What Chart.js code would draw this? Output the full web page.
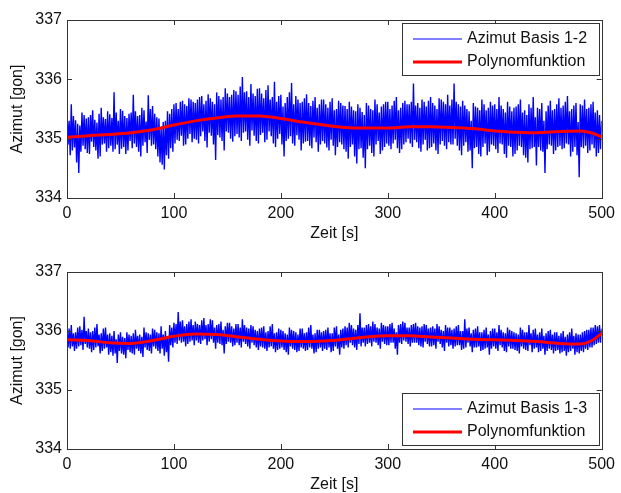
<!DOCTYPE html>
<html lang="de">
<head>
<meta charset="UTF-8">
<title>Azimut Basis 1-2 / 1-3</title>
<script src="https://cdn.jsdelivr.net/npm/chart.js"></script>
<style>
  body { margin: 0; background: #fff; }
  .wrap { position: relative; width: 621px; height: 493px; }
  .box { position: absolute; left: 0; width: 621px; }
  #box1 { top: 0; height: 250px; }
  #box2 { top: 250px; height: 243px; }
</style>
</head>
<body>
<div class="wrap">
  <div class="box" id="box1"><canvas id="chart1"></canvas></div>
  <div class="box" id="box2"><canvas id="chart2"></canvas></div>
</div>
<script>
// Messwerte: ein Wert pro Sekunde, von 0 s bis 500 s
const sampleStart = 0;
const sampleStep = 1;

const azimut12 = [
  335.45, 334.90, 335.30, 334.72, 335.58, 334.80, 335.38, 334.85, 335.31, 334.60, 335.25, 334.42, 335.22, 334.78, 335.44, 334.88, 335.40, 334.82, 335.34, 334.76,
  335.36, 334.74, 335.40, 334.95, 335.48, 334.86, 335.32, 334.80, 335.27, 334.66, 335.42, 334.70, 335.52, 334.90, 335.36, 334.92, 335.33, 334.78, 335.46, 334.84,
  335.41, 334.88, 335.35, 334.78, 335.78, 334.82, 335.44, 334.90, 335.30, 334.74, 335.50, 334.83, 335.47, 334.86, 335.38, 334.74, 335.35, 334.80, 335.42, 334.96,
  335.44, 334.84, 335.74, 334.92, 335.46, 334.86, 335.38, 334.78, 335.40, 334.70, 335.52, 334.88, 335.48, 334.94, 335.29, 334.76, 335.73, 334.98, 335.50, 334.88,
  335.55, 334.90, 335.42, 334.82, 335.36, 334.70, 335.34, 334.60, 335.20, 334.56, 335.28, 334.48, 335.30, 334.72, 335.46, 334.66, 335.42, 334.84, 335.50, 334.78,
  335.58, 334.92, 335.60, 334.98, 335.50, 334.96, 335.62, 335.05, 335.64, 334.88, 335.58, 334.90, 335.55, 335.00, 335.68, 335.08, 335.66, 334.94, 335.62, 335.00,
  335.60, 334.98, 335.66, 334.92, 335.70, 335.04, 335.72, 335.12, 335.58, 334.96, 335.64, 334.85, 335.75, 335.10, 335.68, 335.05, 335.62, 334.90, 335.58, 334.64,
  335.78, 335.06, 335.72, 335.02, 335.66, 334.96, 335.70, 334.80, 335.85, 335.12, 335.76, 335.10, 335.70, 335.00, 335.74, 334.95, 335.82, 335.04, 335.80, 335.08,
  335.74, 335.02, 335.88, 334.96, 336.04, 335.10, 335.78, 335.12, 335.80, 334.98, 335.70, 334.88, 335.92, 335.14, 335.76, 335.05, 335.72, 334.96, 335.84, 334.92,
  335.85, 335.06, 335.76, 335.10, 335.68, 334.94, 335.82, 334.98, 335.90, 335.12, 335.66, 335.04, 335.70, 334.92, 335.96, 334.86, 335.62, 335.00, 335.72, 335.08,
  335.74, 334.90, 335.54, 334.70, 335.60, 334.96, 335.70, 335.00, 335.78, 335.04, 335.94, 334.92, 335.58, 334.88, 335.72, 335.06, 335.66, 334.98, 335.60, 334.80,
  335.62, 334.92, 335.68, 334.95, 335.75, 334.96, 335.60, 334.88, 335.55, 334.84, 335.64, 335.02, 335.70, 334.94, 335.52, 334.78, 335.58, 334.90, 335.66, 334.96,
  335.66, 334.92, 335.58, 334.85, 335.52, 334.80, 335.62, 334.98, 335.68, 334.88, 335.48, 334.72, 335.50, 334.86, 335.64, 334.94, 335.60, 334.90, 335.56, 334.82,
  335.55, 334.78, 335.50, 334.66, 335.62, 334.86, 335.54, 334.90, 335.48, 334.70, 335.46, 334.58, 335.58, 334.82, 335.52, 334.84, 335.45, 334.68, 335.40, 334.50,
  335.60, 334.82, 335.56, 334.88, 335.50, 334.76, 335.48, 334.70, 335.66, 334.90, 335.58, 334.96, 335.44, 334.74, 335.54, 334.80, 335.58, 334.86, 335.62, 334.92,
  335.62, 334.88, 335.50, 334.82, 335.56, 334.92, 335.64, 334.98, 335.70, 334.84, 335.48, 334.76, 335.52, 334.82, 335.60, 334.90, 335.64, 334.94, 335.58, 335.00,
  335.58, 334.92, 335.62, 334.86, 335.93, 334.98, 335.56, 334.94, 335.60, 334.84, 335.52, 334.78, 335.66, 334.90, 335.62, 334.98, 335.54, 334.80, 335.64, 334.84,
  335.70, 334.86, 335.60, 334.92, 335.56, 334.80, 335.50, 334.74, 335.68, 334.90, 335.66, 334.96, 335.62, 334.88, 335.58, 334.82, 335.74, 334.94, 335.56, 334.90,
  335.66, 334.90, 335.93, 335.00, 335.62, 334.88, 335.58, 334.80, 335.54, 334.72, 335.64, 334.88, 335.56, 334.94, 335.50, 334.78, 335.46, 334.80, 335.30, 334.50,
  335.60, 334.84, 335.54, 334.86, 335.52, 334.74, 335.48, 334.70, 335.66, 334.86, 335.58, 334.92, 335.48, 334.72, 335.52, 334.78, 335.62, 334.90, 335.56, 334.88,
  335.58, 334.82, 335.50, 334.76, 335.70, 334.92, 335.56, 334.90, 335.50, 334.74, 335.44, 334.68, 335.62, 334.88, 335.54, 334.86, 335.46, 334.70, 335.52, 334.74,
  335.54, 334.80, 335.58, 334.88, 335.66, 334.86, 335.44, 334.72, 335.48, 334.68, 335.40, 334.60, 335.58, 334.82, 335.52, 334.84, 335.70, 334.86, 335.36, 334.55,
  335.52, 334.86, 335.50, 334.80, 335.60, 334.78, 335.30, 334.42, 335.46, 334.82, 335.56, 334.90, 335.64, 334.88, 335.48, 334.74, 335.50, 334.80, 335.58, 334.86,
  335.68, 334.88, 335.52, 334.82, 335.56, 334.84, 335.62, 334.92, 335.72, 334.90, 335.46, 334.70, 335.50, 334.78, 335.56, 334.86, 335.60, 334.72, 335.28, 334.35,
  335.58, 334.86, 335.56, 334.84, 335.66, 334.88, 335.50, 334.76, 335.52, 334.80, 335.58, 334.90, 335.62, 334.84, 335.44, 334.70, 335.48, 334.76, 335.40, 334.82,
  335.30
];

const azimut13 = [
  336.02, 335.72, 336.04, 335.70, 336.10, 335.74, 335.96, 335.66, 335.98, 335.70, 336.06, 335.74, 336.08, 335.76, 336.02, 335.68, 336.24, 335.78, 336.00, 335.72,
  336.04, 335.70, 335.98, 335.64, 336.00, 335.68, 336.06, 335.72, 336.12, 335.74, 335.94, 335.62, 335.96, 335.66, 336.04, 335.70, 336.06, 335.72, 335.94, 335.60,
  335.96, 335.64, 335.92, 335.58, 336.00, 335.62, 335.86, 335.46, 335.94, 335.66, 335.98, 335.62, 335.90, 335.60, 335.88, 335.54, 335.98, 335.68, 335.94, 335.64,
  335.92, 335.62, 335.96, 335.60, 336.02, 335.70, 335.92, 335.66, 335.94, 335.62, 335.90, 335.56, 336.06, 335.72, 335.98, 335.68, 335.96, 335.66, 335.94, 335.62,
  336.04, 335.74, 336.02, 335.70, 335.98, 335.66, 335.96, 335.62, 336.08, 335.70, 335.94, 335.58, 336.00, 335.64, 335.90, 335.48, 336.10, 335.76, 336.06, 335.72,
  336.14, 335.80, 336.12, 335.78, 336.32, 335.84, 336.16, 335.80, 336.18, 335.82, 336.08, 335.74, 336.12, 335.78, 336.16, 335.82, 336.20, 335.84, 336.10, 335.76,
  336.16, 335.84, 336.12, 335.80, 336.10, 335.78, 336.18, 335.84, 336.22, 335.86, 336.10, 335.76, 336.12, 335.82, 336.20, 335.86, 336.18, 335.80, 336.06, 335.70,
  336.10, 335.80, 336.12, 335.78, 336.16, 335.76, 336.02, 335.62, 336.08, 335.78, 336.14, 335.82, 336.14, 335.80, 336.08, 335.74, 336.04, 335.76, 336.12, 335.80,
  336.12, 335.76, 336.06, 335.72, 336.20, 335.82, 336.10, 335.78, 336.06, 335.74, 336.04, 335.70, 336.10, 335.80, 336.08, 335.76, 336.02, 335.72, 336.00, 335.68,
  336.04, 335.74, 336.06, 335.72, 336.08, 335.70, 335.98, 335.66, 336.00, 335.72, 336.08, 335.74, 336.12, 335.70, 335.96, 335.64, 335.98, 335.68, 336.04, 335.70,
  336.02, 335.72, 336.00, 335.68, 335.96, 335.64, 335.94, 335.60, 336.06, 335.74, 336.02, 335.70, 336.00, 335.68, 335.98, 335.64, 335.94, 335.66, 336.04, 335.72,
  336.04, 335.70, 335.96, 335.66, 335.98, 335.68, 336.06, 335.72, 336.10, 335.70, 335.94, 335.62, 335.96, 335.64, 336.02, 335.70, 336.02, 335.72, 335.98, 335.66,
  336.00, 335.70, 336.02, 335.68, 336.06, 335.72, 335.96, 335.64, 335.96, 335.66, 336.06, 335.74, 336.08, 335.70, 335.94, 335.60, 336.02, 335.72, 336.04, 335.70,
  336.08, 335.76, 336.06, 335.72, 336.14, 335.80, 336.10, 335.76, 336.04, 335.72, 336.02, 335.68, 336.10, 335.78, 336.30, 335.74, 336.06, 335.80, 336.06, 335.74,
  336.10, 335.78, 336.12, 335.80, 336.08, 335.74, 336.16, 335.82, 336.12, 335.80, 336.06, 335.76, 336.04, 335.70, 336.14, 335.82, 336.10, 335.78, 336.08, 335.76,
  336.08, 335.76, 336.12, 335.80, 336.14, 335.80, 336.04, 335.70, 335.98, 335.60, 336.10, 335.80, 336.12, 335.78, 336.16, 335.84, 336.14, 335.82, 336.06, 335.78,
  336.06, 335.74, 336.10, 335.80, 336.12, 335.80, 336.14, 335.80, 336.08, 335.76, 336.06, 335.74, 336.08, 335.72, 336.12, 335.82, 336.10, 335.78, 336.04, 335.74,
  336.06, 335.74, 336.08, 335.76, 336.04, 335.70, 336.12, 335.82, 336.08, 335.78, 336.02, 335.72, 336.00, 335.66, 336.10, 335.80, 336.06, 335.74, 336.06, 335.76,
  336.02, 335.70, 336.04, 335.74, 336.08, 335.76, 336.10, 335.76, 336.00, 335.68, 336.00, 335.70, 336.20, 335.72, 336.04, 335.80, 336.06, 335.74, 335.96, 335.64,
  336.02, 335.72, 336.04, 335.72, 336.08, 335.74, 335.98, 335.66, 335.98, 335.68, 336.02, 335.70, 336.06, 335.72, 335.94, 335.60, 336.00, 335.70, 336.04, 335.74,
  336.04, 335.70, 335.98, 335.66, 336.10, 335.76, 336.02, 335.72, 335.98, 335.66, 335.96, 335.64, 336.06, 335.74, 336.02, 335.70, 336.00, 335.70, 335.98, 335.68,
  335.96, 335.66, 335.94, 335.62, 336.06, 335.74, 336.02, 335.70, 335.98, 335.68, 335.98, 335.66, 336.10, 335.76, 335.96, 335.64, 336.02, 335.70, 336.04, 335.72,
  335.94, 335.64, 335.98, 335.66, 336.04, 335.70, 335.92, 335.60, 335.96, 335.66, 336.00, 335.70, 336.02, 335.68, 335.94, 335.62, 335.98, 335.66, 335.98, 335.68,
  335.92, 335.62, 335.96, 335.64, 336.00, 335.66, 335.90, 335.58, 335.94, 335.64, 335.98, 335.66, 336.04, 335.70, 335.92, 335.60, 335.96, 335.64, 335.94, 335.62,
  335.94, 335.66, 335.98, 335.64, 336.00, 335.70, 336.02, 335.68, 336.02, 335.72, 336.06, 335.72, 336.06, 335.76, 336.10, 335.78, 336.08, 335.80, 336.10, 335.80,
  336.04
];

const polyTime = [0, 20, 40, 60, 80, 100, 120, 140, 160, 180, 200, 220, 240,
  260, 280, 300, 320, 340, 360, 380, 400, 420, 440, 460, 480, 490, 500];
const poly12 = [335.02, 335.05, 335.07, 335.10, 335.15, 335.23, 335.30, 335.35, 335.38,
  335.38, 335.34, 335.28, 335.23, 335.19, 335.18, 335.18, 335.20, 335.20, 335.19,
  335.17, 335.13, 335.11, 335.10, 335.12, 335.13, 335.10, 335.03];
const poly13 = [335.85, 335.84, 335.80, 335.79, 335.84, 335.91, 335.95, 335.94, 335.90,
  335.86, 335.83, 335.82, 335.83, 335.86, 335.90, 335.92, 335.92, 335.90, 335.88,
  335.86, 335.85, 335.84, 335.82, 335.79, 335.78, 335.83, 335.96];

const xTicks = [0, 100, 200, 300, 400, 500];
const yTicks = [334, 335, 336, 337];

const FONT = '"Liberation Sans", Arial, sans-serif';

function samples(values) {
  return values.map((v, i) => ({ x: sampleStart + i * sampleStep, y: v }));
}
function pairs(times, values) {
  return times.map((t, i) => ({ x: t, y: values[i] }));
}

// Rahmen und nach innen zeigende Striche wie bei MATLAB
const frameTicks = {
  id: 'frameTicks',
  afterDatasetsDraw(chart) {
    const { ctx, chartArea: a, scales: { x, y } } = chart;
    ctx.save();
    ctx.strokeStyle = '#333';
    ctx.lineWidth = 1;
    ctx.strokeRect(Math.round(a.left) + 0.5, Math.round(a.top) + 0.5,
      Math.round(a.right - a.left), Math.round(a.bottom - a.top));
    ctx.beginPath();
    x.ticks.forEach(t => {
      const px = Math.round(x.getPixelForValue(t.value)) + 0.5;
      ctx.moveTo(px, a.top); ctx.lineTo(px, a.top + 5);
      ctx.moveTo(px, a.bottom); ctx.lineTo(px, a.bottom - 5);
    });
    y.ticks.forEach(t => {
      const py = Math.round(y.getPixelForValue(t.value)) + 0.5;
      ctx.moveTo(a.left, py); ctx.lineTo(a.left + 5, py);
      ctx.moveTo(a.right, py); ctx.lineTo(a.right - 5, py);
    });
    ctx.stroke();
    ctx.restore();
  }
};

// Legende im Plotbereich (oben rechts / unten rechts)
const boxLegend = {
  id: 'boxLegend',
  afterDraw(chart, args, opts) {
    const { ctx, chartArea: a } = chart;
    const w = 197, h = 52;
    const right = Math.round(a.right) - 3;
    const left = right - w;
    const top = opts.place === 'top' ? Math.round(a.top) + 3 : Math.round(a.bottom) - 4 - h;
    ctx.save();
    ctx.fillStyle = '#fff';
    ctx.fillRect(left, top, w, h);
    ctx.strokeStyle = '#333';
    ctx.lineWidth = 1;
    ctx.strokeRect(left + 0.5, top + 0.5, w, h);
    ctx.font = '16px ' + FONT;
    ctx.textBaseline = 'middle';
    chart.data.datasets.forEach((ds, i) => {
      const cy = top + 16 + i * 23;
      ctx.strokeStyle = ds.borderColor;
      ctx.lineWidth = ds.legendLineWidth || ds.borderWidth;
      ctx.beginPath();
      ctx.moveTo(left + 11, cy);
      ctx.lineTo(left + 60, cy);
      ctx.stroke();
      ctx.fillStyle = '#111';
      ctx.fillText(ds.label, left + 65, cy);
    });
    ctx.restore();
  }
};

function makeChart(id, label, measured, poly, cfg) {
  return new Chart(document.getElementById(id), {
    type: 'line',
    data: {
      datasets: [{
        label: label,
        data: samples(measured),
        borderColor: '#0000ff',
        borderWidth: 1.4,
        legendLineWidth: 1,
        pointRadius: 0,
        order: 1
      }, {
        label: 'Polynomfunktion',
        data: pairs(polyTime, poly),
        borderColor: '#ff0000',
        borderWidth: 3,
        pointRadius: 0,
        cubicInterpolationMode: 'monotone',
        order: 0
      }]
    },
    options: {
      responsive: true,
      maintainAspectRatio: false,
      animation: false,
      events: [],
      layout: { padding: { top: cfg.padTop, right: 14, bottom: 0, left: 0 } },
      scales: {
        x: {
          type: 'linear',
          min: 0, max: 500,
          grid: { display: false, drawTicks: false },
          border: { display: false },
          afterBuildTicks: s => { s.ticks = xTicks.map(v => ({ value: v })); },
          afterFit: s => { s.height = cfg.xHeight; },
          ticks: { color: '#111', font: { family: FONT, size: 16 }, padding: 6, maxRotation: 0 },
          title: {
            display: true, text: 'Zeit [s]', color: '#111',
            font: { family: FONT, size: 16, lineHeight: 1.1 },
            padding: { top: 0, bottom: cfg.titlePad }
          }
        },
        y: {
          min: 334, max: 337,
          grid: { display: false, drawTicks: false },
          border: { display: false },
          afterBuildTicks: s => { s.ticks = yTicks.map(v => ({ value: v })); },
          afterFit: s => { s.width = 67; },
          ticks: { color: '#111', font: { family: FONT, size: 16 }, padding: 5 },
          title: {
            display: true, text: 'Azimut [gon]', color: '#111',
            font: { family: FONT, size: 16, lineHeight: 1.1 },
            padding: { top: 9, bottom: 0 }
          }
        }
      },
      plugins: {
        legend: { display: false },
        tooltip: { enabled: false },
        boxLegend: { place: cfg.legend }
      }
    },
    plugins: [frameTicks, boxLegend]
  });
}

makeChart('chart1', 'Azimut Basis 1-2', azimut12, poly12,
  { padTop: 20, xHeight: 52, titlePad: 8, legend: 'top' });
makeChart('chart2', 'Azimut Basis 1-3', azimut13, poly13,
  { padTop: 22, xHeight: 44, titlePad: 0, legend: 'bottom' });
</script>
</body>
</html>
